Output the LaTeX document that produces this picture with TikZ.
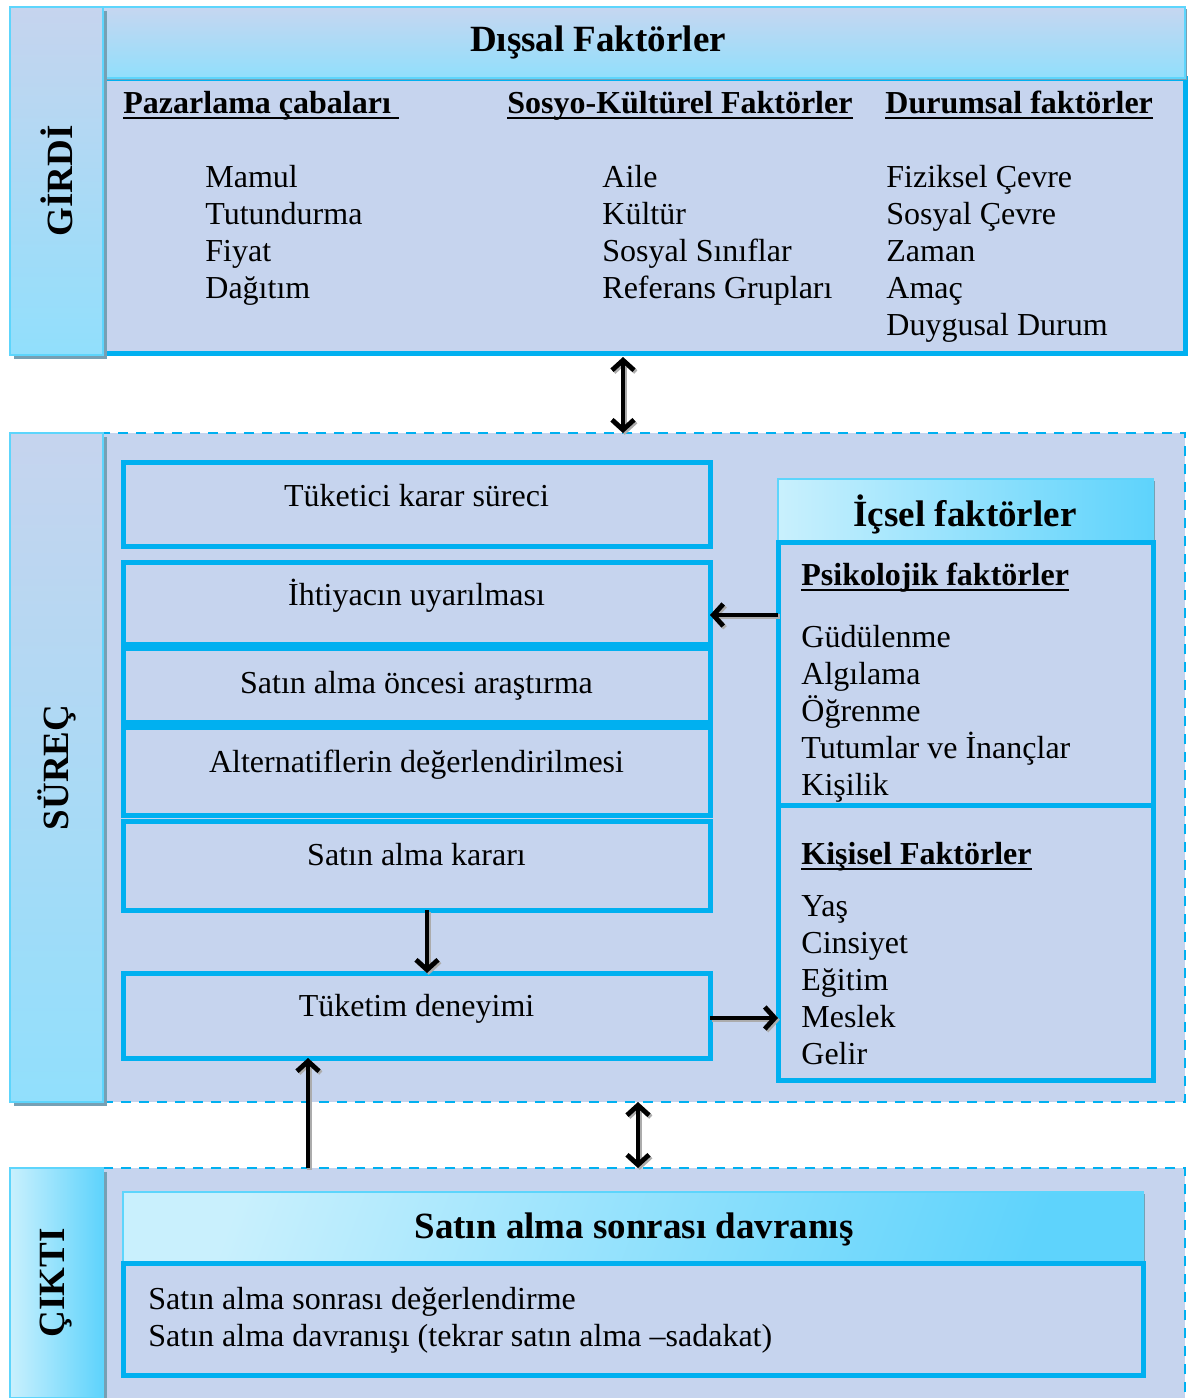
\documentclass[tikz,border=0pt]{standalone}
\usepackage{fontspec}
\setmainfont{Liberation Serif}
\usetikzlibrary{arrows.meta,shadows,calc}

\definecolor{lav}{RGB}{198,212,238}
\definecolor{cyanline}{RGB}{0,176,240}
\definecolor{barline}{RGB}{93,213,252}
\definecolor{cyanpale}{RGB}{201,240,253}
\definecolor{cyanmid}{RGB}{94,211,252}
\definecolor{cyansoft}{RGB}{145,223,252}
\definecolor{hdrtop}{RGB}{198,214,240}
\definecolor{shadowgray}{RGB}{118,160,180}

\newcommand{\ulhead}[1]{\setbox0\hbox{#1}\rlap{\rule[-3.2pt]{\wd0}{1.4pt}}\box0}
\newcommand{\txtsize}{\fontsize{16}{18.5}\selectfont}
\newcommand{\bigsize}{\fontsize{18.5}{22}\selectfont\bfseries}

\tikzset{
  frame/.style={fill=lav, anchor=north west, inner sep=0pt, outer sep=0pt},
  dashframe/.style={frame, draw=cyanline, line width=1.3pt, dash pattern=on 5pt off 4pt},
  sidebar/.style={draw=barline, line width=0.8pt, anchor=north west, inner sep=0pt, outer sep=0pt,
    minimum width=46.5pt, drop shadow={shadow xshift=1.8pt, shadow yshift=-1.8pt, fill=shadowgray, opacity=1}},
  hdrbox/.style={draw=barline, line width=0.8pt, anchor=north west, inner sep=0pt, outer sep=0pt,
    drop shadow={shadow xshift=1.2pt, shadow yshift=-1.2pt, fill=shadowgray, opacity=1}},
  stage/.style={frame, draw=cyanline, line width=2.5pt},
  sidelabel/.style={rotate=90, font=\bigsize, inner sep=0pt},
  title/.style={anchor=base, font=\bigsize, inner sep=0pt},
  colhead/.style={anchor=base west, font=\txtsize\bfseries, inner sep=0pt},
  itemlist/.style={anchor=base west, align=left, font=\txtsize, inner sep=0pt},
  stagetxt/.style={anchor=base, font=\txtsize, inner sep=0pt},
  arr/.style={line width=2.4pt, -{Straight Barb[length=5pt,width=11pt,line width=2.4pt]},
    preaction={draw=gray!65, line width=2.4pt, transform canvas={xshift=0.9pt,yshift=-0.9pt}}},
  dblarr/.style={arr, {Straight Barb[length=5pt,width=11pt,line width=2.4pt]}-{Straight Barb[length=5pt,width=11pt,line width=2.4pt]}}
}

\begin{document}
\begin{tikzpicture}[x=0.5pt,y=-0.5pt]
\useasboundingbox (0,0) rectangle (1189,1398);

% GIRDI
\node[stage, minimum width=541pt, minimum height=137.5pt] (girdibody) at (103,78) {};
\node[hdrbox, top color=hdrtop, bottom color=cyansoft, minimum width=541pt, minimum height=35.5pt] (dissalhdr) at (103,7) {};
\node[sidebar, top color=lav, bottom color=cyansoft, minimum height=174pt] (girdibar) at (10,7) {};
\node[sidelabel] (girdilbl) at (girdibar.center) {GİRDİ};
\node[title] (dissaltxt) at (598,51) {Dışsal Faktörler};

\node[colhead] (pazhead) at (123,113) {\ulhead{Pazarlama çabaları\ }};
\node[colhead] (sosyohead) at (507,113) {\ulhead{Sosyo-Kültürel Faktörler}};
\node[colhead] (durumhead) at (885,113) {\ulhead{Durumsal faktörler}};
% lists sit on the baseline of their last line
\node[itemlist] (pazlist) at (205,298) {Mamul\\Tutundurma\\Fiyat\\Dağıtım};
\node[itemlist] (sosyolist) at (602,298) {Aile\\Kültür\\Sosyal Sınıflar\\Referans Grupları};
\node[itemlist] (durumlist) at (886,335) {Fiziksel Çevre\\Sosyal Çevre\\Zaman\\Amaç\\Duygusal Durum};

% SUREC
\node[dashframe, minimum width=541pt, minimum height=334.5pt] (surec) at (103,433) {};
\node[sidebar, top color=lav, bottom color=cyansoft, minimum height=334.5pt] (surecbar) at (10,433) {};
\node[sidelabel] (sureclbl) at (surecbar.center) {SÜREÇ};

\node[stage, minimum width=293.5pt, minimum height=42pt] (b1) at (123,462) {};
\node[stage, minimum width=293.5pt, minimum height=41pt] (b2) at (123,562) {};
\node[stage, minimum width=293.5pt, minimum height=37pt] (b3) at (123,648) {};
\node[stage, minimum width=293.5pt, minimum height=44pt] (b4) at (123,727) {};
\node[stage, minimum width=293.5pt, minimum height=44.5pt] (b5) at (123,821) {};
\node[stage, minimum width=293.5pt, minimum height=42.5pt] (b6) at (123,973) {};
\node[stagetxt] (t1) at ([yshift=-1pt]b1.center) {Tüketici karar süreci};
\node[stagetxt] (t2) at ([yshift=-1pt]b2.center) {İhtiyacın uyarılması};
\node[stagetxt] (t3) at ([yshift=-4pt]b3.center) {Satın alma öncesi araştırma};
\node[stagetxt] (t4) at ([yshift=-0.5pt]b4.center) {Alternatiflerin değerlendirilmesi};
\node[stagetxt] (t5) at (b5.center) {Satın alma kararı};
\node[stagetxt] (t6) at ([yshift=-0.5pt]b6.center) {Tüketim deneyimi};

\node[hdrbox, left color=cyanpale, right color=cyanmid, minimum width=187.5pt, minimum height=31.5pt] (icselhdr) at (778,479) {};
\node[stage, minimum width=187.5pt, minimum height=131.5pt] (psiko) at (778,542) {};
\node[stage, minimum width=187.5pt, minimum height=137.5pt] (kisisel) at (778,805) {};
\node[title] (icseltxt) at (965,526) {İçsel faktörler};
\node[colhead] (psikohead) at (801,585) {\ulhead{Psikolojik faktörler}};
\node[itemlist] (psikolist) at (801,795) {Güdülenme\\Algılama\\Öğrenme\\Tutumlar ve İnançlar\\Kişilik};
\node[colhead] (kisihead) at (801,864) {\ulhead{Kişisel Faktörler}};
\node[itemlist] (kisilist) at (801,1064) {Yaş\\Cinsiyet\\Eğitim\\Meslek\\Gelir};

% CIKTI
\node[dashframe, minimum width=541pt, minimum height=120pt] (cikti) at (103,1168) {};
\node[sidebar, left color=cyanpale, right color=cyanmid, minimum height=115pt] (ciktibar) at (10,1168) {};
\node[sidelabel] (ciktilbl) at (ciktibar.center) {ÇIKTI};
\node[hdrbox, left color=cyanpale, right color=cyanmid, shading angle=70, minimum width=510pt, minimum height=35.5pt] (sonrahdr) at (123,1192) {};
\node[stage, minimum width=510pt, minimum height=56pt] (sonrabody) at (123,1263) {};
\node[title] (sonratxt) at (634,1238) {Satın alma sonrası davranış};
\node[itemlist] (sonralist) at (148,1346) {Satın alma sonrası değerlendirme\\Satın alma davranışı (tekrar satın alma –sadakat)};

% arrows
\coordinate (a2) at ([yshift=-6pt]b2.east);
\coordinate (a4) at ([yshift=-1.25pt]b6.east);
\coordinate (a5) at ([xshift=-54.25pt]b6.south);
\draw[dblarr] ([xshift=-10.5pt,yshift=-2pt]girdibody.south) -- ([xshift=-10.5pt]surec.north);
\draw[arr] (psiko.west |- a2) -- (a2);
\draw[arr] ([xshift=5.25pt]b5.south) -- ([xshift=5.25pt]b6.north);
\draw[arr] (a4) -- (kisisel.west |- a4);
\draw[arr] (cikti.north -| a5) -- (a5);
\draw[dblarr] ([xshift=-3pt]surec.south) -- ([xshift=-3pt]cikti.north);
\end{tikzpicture}
\end{document}
